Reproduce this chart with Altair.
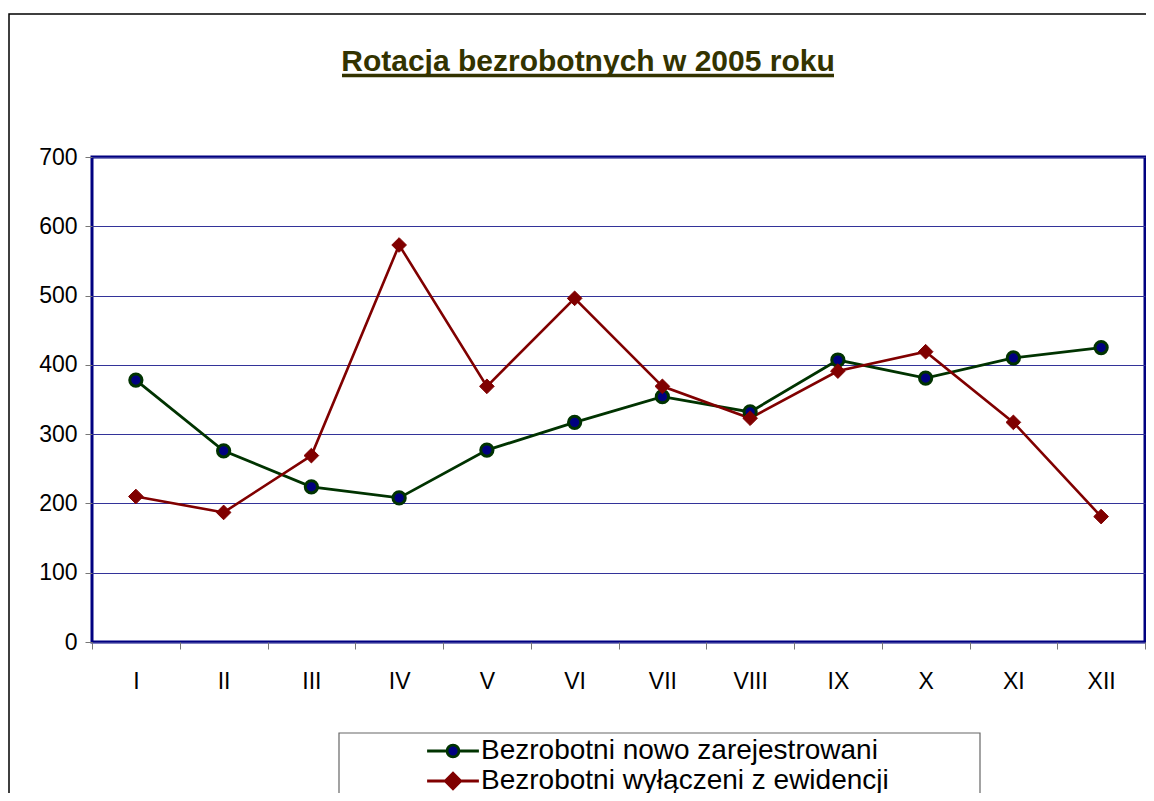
import altair as alt
import pandas as pd

title_text = "Rotacja bezrobotnych w 2005 roku"
months = ["I", "II", "III", "IV", "V", "VI", "VII", "VIII", "IX", "X", "XI", "XII"]
series_names = ["Bezrobotni nowo zarejestrowani", "Bezrobotni wyłączeni z ewidencji"]
nowo = [378, 276, 224, 208, 277, 317, 354, 332, 407, 381, 410, 425]
wyl = [210, 187, 269, 573, 369, 496, 369, 323, 391, 419, 317, 181]
y_ticks = [0, 100, 200, 300, 400, 500, 600, 700]

rows = []
for m, a, b in zip(months, nowo, wyl):
    rows.append({"month": m, "series": series_names[0], "value": a})
    rows.append({"month": m, "series": series_names[1], "value": b})
df = pd.DataFrame(rows)
one = pd.DataFrame({"k": [0]})
legend_df = pd.DataFrame({"series": series_names})

FONT = "Liberation Sans"
line_colors = ["#003300", "#800000"]
fill_colors = ["#000080", "#800000"]

x_enc = alt.X(
    "month:N", sort=months,
    scale=alt.Scale(type="band", domain=months, paddingInner=0, paddingOuter=0),
    axis=alt.Axis(title=None, labelAngle=0, tickBand="extent", domain=False, grid=False,
                  ticks=True, tickSize=7, tickColor="#777777", tickWidth=1,
                  labelFont=FONT, labelFontSize=23, labelColor="black", labelPadding=21),
)
y_enc = alt.Y(
    "value:Q",
    scale=alt.Scale(domain=[0, 700], nice=False, zero=True),
    axis=alt.Axis(values=y_ticks, title=None, grid=True, gridColor="#333399", gridWidth=1,
                  domain=False, tickSize=7, tickColor="#777777", tickWidth=1,
                  labelFont=FONT, labelFontSize=23, labelColor="black", labelPadding=8),
)

path_circle = ("M-3.7,0H-0.85M0.85,0H3.7M-0.85,0A0.85,0.85,0,1,1,0.85,0"
               "A0.85,0.85,0,1,1,-0.85,0Z")
path_diamond = "M-3.7,0H3.7M0,-1.1L1.1,0L0,1.1L-1.1,0Z"

leg = alt.Legend(
    orient="none", legendX=329, legendY=580, title=None,
    symbolSize=196, symbolStrokeWidth=2.8, symbolOffset=18, labelOffset=14,
    rowPadding=2, padding=0,
    labelFont=FONT, labelFontSize=28, labelColor="black", labelLimit=600,
)
fill_scale = alt.Scale(domain=series_names, range=fill_colors)
stroke_scale = alt.Scale(domain=series_names, range=line_colors)
shape_scale = alt.Scale(domain=series_names, range=[path_circle, path_diamond])

base = alt.Chart(df)
s0 = base.transform_filter(alt.datum.series == series_names[0])
s1 = base.transform_filter(alt.datum.series == series_names[1])

line0 = s0.mark_line(strokeWidth=2.8, color=line_colors[0]).encode(x=x_enc, y=y_enc)
line1 = s1.mark_line(strokeWidth=2.6, color=line_colors[1]).encode(x=x_enc, y=y_enc)
circles = s0.mark_point(
    shape="circle", filled=True, opacity=1, size=150, strokeWidth=3,
    fill=fill_colors[0], stroke=line_colors[0],
).encode(x=x_enc, y=y_enc)
diamonds = s1.mark_point(
    shape="diamond", filled=True, opacity=1, size=215, strokeWidth=1,
    fill=fill_colors[1], stroke=line_colors[1],
).encode(x=x_enc, y=y_enc)
# legend source layer: its own marks are placed outside the drawing
legend_src = alt.Chart(legend_df).mark_point(filled=True, opacity=1).encode(
    x=alt.value(-500), y=alt.value(-3000),
    fill=alt.Fill("series:N", scale=fill_scale, legend=leg),
    stroke=alt.Stroke("series:N", scale=stroke_scale, legend=leg),
    shape=alt.Shape("series:N", scale=shape_scale, legend=leg),
)

outer_border = alt.Chart(one).mark_rect(fillOpacity=0, stroke="black", strokeWidth=1.5).encode(
    x=alt.value(-83), x2=alt.value(1300), y=alt.value(-143), y2=alt.value(900)
)
legend_box = alt.Chart(one).mark_rect(fillOpacity=0, stroke="#666666", strokeWidth=1.2).encode(
    x=alt.value(247), x2=alt.value(888), y=alt.value(576), y2=alt.value(800)
)
title_mark = alt.Chart(one).mark_text(
    font=FONT, fontSize=30, fontWeight="bold", color="#333300", align="center", baseline="alphabetic"
).encode(x=alt.value(496), y=alt.value(-86), text=alt.value(title_text))
underline = alt.Chart(one).mark_rule(color="#333300", strokeWidth=3.5).encode(
    x=alt.value(250), x2=alt.value(742), y=alt.value(-81.5)
)

chart = alt.layer(outer_border, legend_box, line0, line1, circles, diamonds, legend_src,
                  title_mark, underline).properties(
    width=1053, height=485,
    autosize=alt.AutoSizeParams(type="none"),
    padding={"left": 84, "top": 149, "right": 1, "bottom": 151},
    background="white",
).configure_view(stroke="#000080", strokeWidth=3)

chart.save("out.html", embed_options={"renderer": "svg", "actions": False})
